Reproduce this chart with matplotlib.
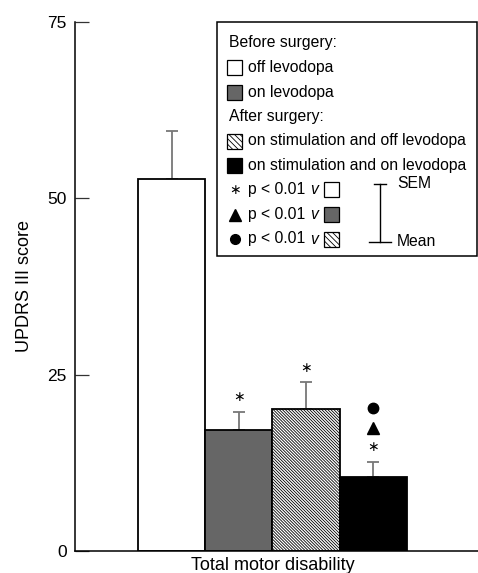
import matplotlib
matplotlib.use("Agg")
import matplotlib.pyplot as plt
from matplotlib.patches import Rectangle
from matplotlib.lines import Line2D
import numpy as np

plt.rcParams['font.family'] = ['Liberation Sans', 'DejaVu Sans']
plt.rcParams['hatch.linewidth'] = 0.6

# ---- data ----
conditions = ["off levodopa", "on levodopa",
              "on stimulation and off levodopa", "on stimulation and on levodopa"]
means = [52.7, 17.1, 20.1, 10.5]
sems = [6.9, 2.6, 3.8, 2.1]
significance = [[], ["*"], ["*"], ["*", "^", "o"]]
category = "Total motor disability"
yticks = [0, 25, 50, 75]

W, H = 478, 573
fig = plt.figure(figsize=(W / 100, H / 100), dpi=100)
ax = fig.add_axes([75 / W, 1 - 551 / H, 1 - 75 / W, (551 - 22) / H])

faces = ["white", "#666666", "white", "black"]
hatches = [None, None, "\\" * 11, None]
x = np.arange(len(means))
for i in range(len(means)):
    ax.bar(x[i], means[i], width=1.0, color=faces[i], edgecolor="black",
           linewidth=1.3, hatch=hatches[i], zorder=2)
    ax.errorbar(x[i], means[i], yerr=[[0], [sems[i]]], fmt="none",
                ecolor="#777777", elinewidth=1.3, capsize=4.3, capthick=1.3, zorder=1)

# significance markers
for i, marks in enumerate(significance):
    y = means[i] + sems[i] + 2.1
    for m in marks:
        if m == "*":
            ax.text(x[i], y, "\u2217", ha="center", va="center", fontsize=10,
                    family="DejaVu Sans", zorder=3)
        elif m == "^":
            ax.plot(x[i], y, marker="^", color="black", markersize=8, zorder=3)
        else:
            ax.plot(x[i], y, marker="o", color="black", markersize=7.5, zorder=3)
        y += 2.8

ax.set_xlim(-1.44, 4.56)
ax.set_ylim(0, 75)
ax.set_yticks(yticks)
ax.set_yticklabels([str(t) for t in yticks], fontsize=12.5)
ax.set_xticks([x.mean()])
ax.set_xticklabels([category], fontsize=13)
ax.tick_params(axis="x", length=0, pad=4)
ax.tick_params(axis="y", direction="in", length=10, width=0.9, color="#333333", pad=6)
ax.set_ylabel("UPDRS III score", fontsize=13, labelpad=10)
for s in ["top", "right"]:
    ax.spines[s].set_visible(False)
ax.spines["left"].set_linewidth(1.1)
ax.spines["bottom"].set_linewidth(1.1)

# ---- legend box (figure pixel coords) ----
def fx(px):
    return px / W

def fy(py):
    return 1 - py / H

fig.patches.append(Rectangle((fx(217), fy(256)), fx(477) - fx(217), fy(22) - fy(256),
                             transform=fig.transFigure, facecolor="white",
                             edgecolor="black", linewidth=1.1, zorder=5))

row0, dy = 43, 24.5
fs = 11.3

def square(px, py, face, hatch=None):
    s = 15
    fig.patches.append(Rectangle((fx(px), fy(py + s / 2)), fx(px + s) - fx(px),
                                 fy(py - s / 2) - fy(py + s / 2),
                                 transform=fig.transFigure, facecolor=face,
                                 edgecolor="black", linewidth=0.9, hatch=hatch, zorder=6))

fig.text(fx(229), fy(row0), "Before surgery:", fontsize=fs, va="center", zorder=7)
rows_cond = [1, 2, 4, 5]
fig.text(fx(229), fy(row0 + 3 * dy), "After surgery:", fontsize=fs, va="center", zorder=7)
sq_hatch = ["\\" * 6 if h else None for h in hatches]
for i, r in enumerate(rows_cond):
    yy = row0 + r * dy
    square(227, yy, faces[i], sq_hatch[i])
    fig.text(fx(248), fy(yy), conditions[i], fontsize=fs, va="center", zorder=7)

for k, m in enumerate(["*", "^", "o"]):
    yy = row0 + (6 + k) * dy
    if m == "*":
        fig.text(fx(235), fy(yy), "\u2217", fontsize=10, family="DejaVu Sans",
                 ha="center", va="center", zorder=7)
    else:
        fig.add_artist(Line2D([fx(235)], [fy(yy)], marker=m, color="black",
                              markersize=7 if m == "o" else 8,
                              transform=fig.transFigure, zorder=7))
    fig.text(fx(248), fy(yy), "p < 0.01", fontsize=fs, va="center", zorder=7)
    fig.text(fx(310), fy(yy), "v", fontsize=fs, style="italic", va="center", zorder=7)
    square(324, yy, faces[k], sq_hatch[k])

# SEM / Mean key
fig.add_artist(Line2D([fx(380), fx(380)], [fy(184), fy(242)], color="black",
                      linewidth=1.0, transform=fig.transFigure, zorder=7))
fig.add_artist(Line2D([fx(374), fx(386)], [fy(184), fy(184)], color="black",
                      linewidth=1.0, transform=fig.transFigure, zorder=7))
fig.add_artist(Line2D([fx(369), fx(391)], [fy(242), fy(242)], color="black",
                      linewidth=1.0, transform=fig.transFigure, zorder=7))
fig.text(fx(397), fy(184), "SEM", fontsize=fs, va="center", zorder=7)
fig.text(fx(397), fy(242), "Mean", fontsize=fs, va="center", zorder=7)

fig.savefig("out.png", dpi=100)
